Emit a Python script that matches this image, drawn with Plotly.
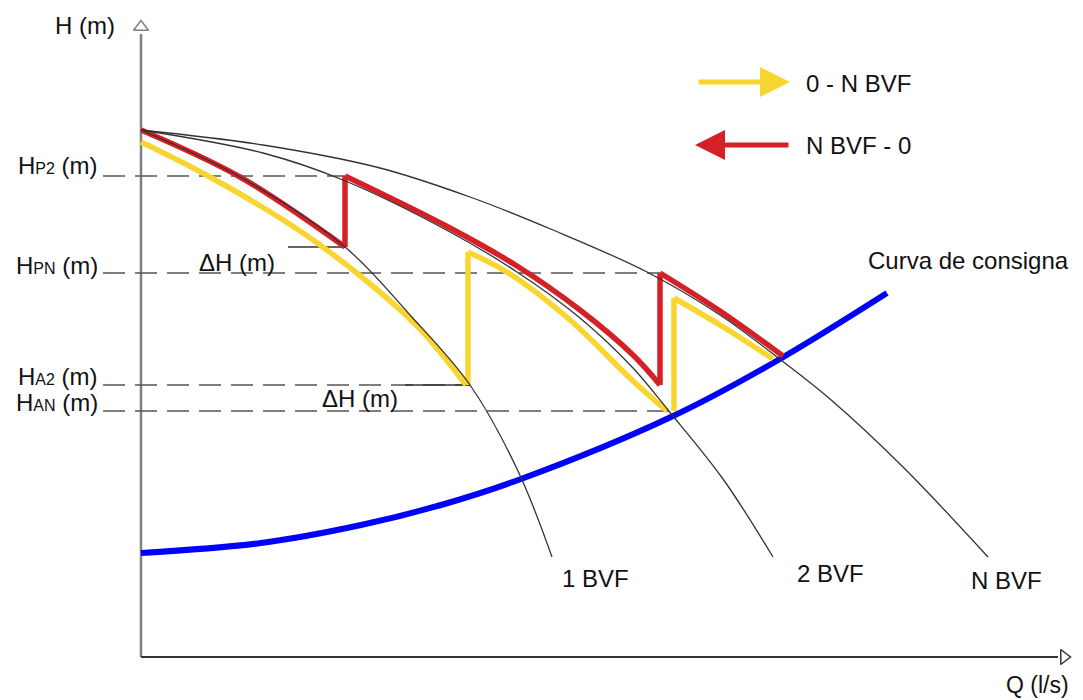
import plotly.graph_objects as go

# Pump head curves for 1, 2 and N variable-speed pumps (Q in l/s, H in m)
q_1bvf = [0.0, 9.9, 20.4, 26.9, 32.9, 37.7, 41.1]
h_1bvf = [52.7, 48.0, 41.0, 34.2, 27.2, 18.6, 10.0]

q_2bvf = [0.0, 12.2, 20.2, 30.9, 37.6, 43.9, 49.2, 52.7, 58.2, 63.2]
h_2bvf = [52.7, 50.4, 47.7, 42.5, 38.5, 33.9, 28.9, 24.7, 17.8, 10.0]

q_nbvf = [0.0, 12.2, 23.9, 32.9, 41.2, 50.6, 57.9, 63.6, 68.9, 76.2, 84.7]
h_nbvf = [52.7, 51.2, 48.9, 46.0, 42.7, 38.5, 34.2, 30.0, 25.8, 19.0, 10.0]

# Set-point curve
q_consigna = [0.0, 12.0, 22.0, 30.0, 38.0, 53.0, 63.2, 74.6]
h_consigna = [10.4, 11.4, 13.2, 15.2, 17.8, 24.0, 29.4, 36.4]

# Switching heads
H_P2 = 48.1
H_PN = 38.4
H_A2 = 27.2
H_AN = 24.6

# Operating path when stopping pumps (N BVF -> 0)
red_segments = [
    ([51.9, 57.9, 64.2], [H_PN, 34.6, 30.1]),
    ([51.9, 51.9], [27.2, H_PN]),
    ([20.4, 30.9, 37.6, 43.9, 49.2, 51.9], [H_P2, 42.9, 39.1, 34.7, 30.2, 27.2]),
    ([20.4, 20.4], [41.0, H_P2]),
    ([0.0, 9.9, 20.4], [52.7, 48.0, 41.0]),
]

# Operating path when starting pumps (0 -> N BVF)
yellow_segments = [
    ([0.0, 6.9, 15.9, 22.2, 27.9, 32.5], [51.5, 48.0, 42.6, 37.9, 32.8, H_A2]),
    ([32.7, 32.7], [H_A2, 40.5]),
    ([32.7, 36.9, 42.9, 49.2, 52.6], [40.5, 38.3, 33.7, 27.6, H_AN]),
    ([53.3, 53.3], [H_AN, 35.9]),
    ([53.3, 57.9, 63.2], [35.9, 33.2, 29.8]),
]

# Dashed reference levels: (label, head, end of line, label height)
levels = [
    ("H<span style='font-size:16px'>P2</span> (m)", H_P2, 20.4, 49.2),
    ("H<span style='font-size:16px'>PN</span> (m)", H_PN, 51.9, 39.2),
    ("H<span style='font-size:16px'>A2</span> (m)", H_A2, 32.9, 28.1),
    ("H<span style='font-size:16px'>AN</span> (m)", H_AN, 53.3, 25.5),
]

RED = "#D42127"
YELLOW = "#F8D52F"
BLUE = "#0000FF"
THIN = "#333333"
FONT = "Liberation Sans, Arial, sans-serif"

fig = go.Figure()

# Axes with open arrowheads
fig.add_trace(go.Scatter(x=[0, 0], y=[0, 62.3], mode="lines",
                         line=dict(color="#808080", width=2.5), hoverinfo="skip"))
fig.add_trace(go.Scatter(x=[0, 91.7], y=[0, 0], mode="lines",
                         line=dict(color="#333333", width=2), hoverinfo="skip"))
fig.add_trace(go.Scatter(x=[0], y=[63.0], mode="markers",
                         marker=dict(symbol="triangle-up-open", size=13,
                                     color="#808080", line=dict(width=1.5)),
                         hoverinfo="skip"))
fig.add_trace(go.Scatter(x=[92.3], y=[0], mode="markers",
                         marker=dict(symbol="triangle-right-open", size=13,
                                     color="#333333", line=dict(width=1.5)),
                         hoverinfo="skip"))

# Dashed level lines
for _, h, q_end, _ in levels:
    fig.add_trace(go.Scatter(x=[-3.8, q_end], y=[h, h], mode="lines",
                             line=dict(color="#555555", width=1.3, dash="22px,10px"),
                             hoverinfo="skip"))

# ΔH markers
fig.add_trace(go.Scatter(x=[14.7, 20.4], y=[41.0, 41.0], mode="lines",
                         line=dict(color=THIN, width=1.3), hoverinfo="skip"))
fig.add_trace(go.Scatter(x=[26.4, 32.9], y=[H_A2, H_A2], mode="lines",
                         line=dict(color=THIN, width=1.3), hoverinfo="skip"))

# Set-point curve
fig.add_trace(go.Scatter(x=q_consigna, y=h_consigna, mode="lines",
                         line=dict(color=BLUE, width=6, shape="spline"),
                         hoverinfo="skip"))

# Operating paths
for segs, color in ((yellow_segments, YELLOW), (red_segments, RED)):
    for qs, hs in segs:
        fig.add_trace(go.Scatter(x=qs, y=hs, mode="lines",
                                 line=dict(color=color, width=5.5, shape="spline"),
                                 hoverinfo="skip"))

# Pump curves on top
for qs, hs in ((q_1bvf, h_1bvf), (q_2bvf, h_2bvf), (q_nbvf, h_nbvf)):
    fig.add_trace(go.Scatter(x=qs, y=hs, mode="lines",
                             line=dict(color=THIN, width=1.3, shape="spline"),
                             hoverinfo="skip"))

annotations = []


def label(text, x, y, xanchor="center", size=24):
    annotations.append(dict(x=x, y=y, text=text, showarrow=False, xanchor=xanchor,
                            yanchor="middle", font=dict(family=FONT, size=size, color="#111111")))


label("H (m)", -5.6, 63.2)
label("Q (l/s)", 89.6, -2.8, size=23)
for text, _, _, ylab in levels:
    label(text, -4.1, ylab, xanchor="right")
label("ΔH (m)", 9.6, 39.5)
label("ΔH (m)", 21.9, 25.9)
label("Curva de consigna", 82.7, 39.7)
label("1 BVF", 45.4, 7.9)
label("2 BVF", 68.9, 8.4)
label("N BVF", 86.5, 7.7)
label("0 - N BVF", 66.3, 57.4, xanchor="left")
label("N BVF - 0", 66.3, 51.2, xanchor="left")

# Direction arrows
annotations.append(dict(x=64.9, y=57.5, ax=55.6, ay=57.5, axref="x", ayref="y",
                        xref="x", yref="y", text="", showarrow=True, arrowhead=2,
                        arrowsize=1.2, arrowwidth=5, arrowcolor=YELLOW))
annotations.append(dict(x=55.4, y=51.2, ax=64.9, ay=51.2, axref="x", ayref="y",
                        xref="x", yref="y", text="", showarrow=True, arrowhead=2,
                        arrowsize=1.2, arrowwidth=5, arrowcolor=RED))

fig.update_layout(
    width=1083, height=700,
    margin=dict(l=0, r=0, t=0, b=0),
    paper_bgcolor="white", plot_bgcolor="white",
    showlegend=False,
    xaxis=dict(range=[-14.1, 94.2], visible=False, fixedrange=True),
    yaxis=dict(range=[-4.3, 65.7], visible=False, fixedrange=True),
    annotations=annotations,
)

fig.write_html("out.html")
